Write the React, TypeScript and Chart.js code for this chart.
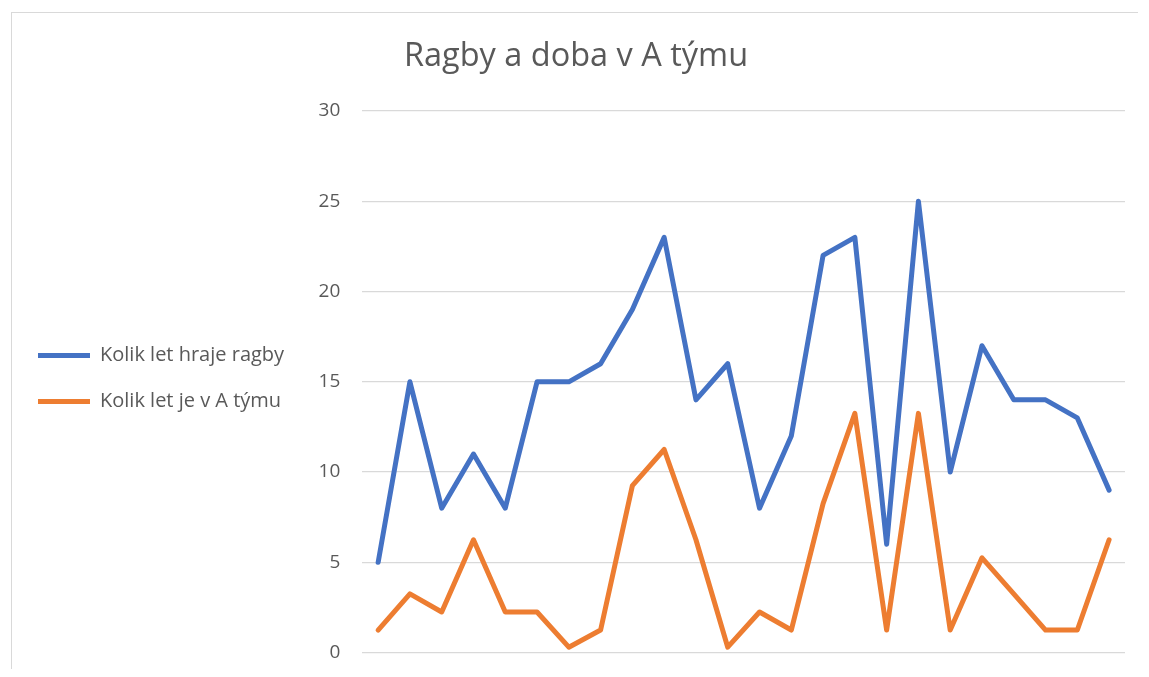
import React, { useEffect, useRef } from "react";
import { Chart, registerables } from "chart.js";

Chart.register(...registerables);

const categories: string[] = [
  "1", "2", "3", "4", "5", "6", "7", "8", "9", "10", "11", "12",
  "13", "14", "15", "16", "17", "18", "19", "20", "21", "22", "23", "24",
];
const yearsPlaying: number[] = [5, 15, 8, 11, 8, 15, 15, 16, 19, 23, 14, 16, 8, 12, 22, 23, 6, 25, 10, 17, 14, 14, 13, 9];
const yearsInATeam: number[] = [1.25, 3.25, 2.25, 6.25, 2.25, 2.25, 0.3, 1.25, 9.25, 11.25, 6.25, 0.3, 2.25, 1.25, 8.25, 13.25, 1.25, 13.25, 1.25, 5.25, 3.25, 1.25, 1.25, 6.25];
const seriesNames: string[] = ["Kolik let hraje ragby", "Kolik let je v A týmu"];
const chartTitle = "Ragby a doba v A týmu";

const shiftTitle = {
  id: "shiftTitle",
  afterLayout(chart: any) {
    if (chart.titleBlock) chart.titleBlock.left += 15;
  },
};

export default function App() {
  const ref = useRef<HTMLCanvasElement | null>(null);
  useEffect(() => {
    if (!ref.current) return;
    const font = "'Open Sans', 'Liberation Sans', sans-serif";
    const chart = new Chart(ref.current, {
      type: "line",
      data: {
        labels: categories,
        datasets: [
          {
            label: seriesNames[0],
            data: yearsPlaying,
            borderColor: "#4472C4",
            backgroundColor: "#4472C4",
            borderWidth: 5,
            pointRadius: 0,
            tension: 0,
            borderCapStyle: "round",
            borderJoinStyle: "round",
          },
          {
            label: seriesNames[1],
            data: yearsInATeam,
            borderColor: "#ED7D31",
            backgroundColor: "#ED7D31",
            borderWidth: 5,
            pointRadius: 0,
            tension: 0,
            borderCapStyle: "round",
            borderJoinStyle: "round",
          },
        ],
      },
      plugins: [shiftTitle],
      options: {
        animation: false,
        responsive: false,
        maintainAspectRatio: false,
        layout: { padding: { left: 0, right: 13, top: 20, bottom: 4 } },
        plugins: {
          title: {
            display: true,
            text: chartTitle,
            color: "#595959",
            font: { family: font, size: 32.5, weight: "normal" },
            padding: { top: 4, bottom: 35 },
          },
          legend: {
            position: "left",
            title: { display: true, text: "", padding: { top: 27.6, bottom: 0 } },
            labels: {
              color: "#595959",
              font: { family: font, size: 20 },
              usePointStyle: true,
              pointStyle: "line",
              pointStyleWidth: 52,
              boxWidth: 52,
              boxHeight: 4,
              padding: 26,
            },
          },
          tooltip: { enabled: false },
        },
        scales: {
          x: {
            display: false,
            offset: true,
          },
          y: {
            min: 0,
            max: 30,
            afterFit: (scale: any) => {
              scale.width = 72;
            },
            ticks: {
              stepSize: 5,
              color: "#595959",
              font: { family: font, size: 19 },
              padding: 22,
            },
            grid: { color: "#d9d9d9", lineWidth: 1.3, drawTicks: false },
            border: { display: false },
          },
        },
      },
    });
    return () => chart.destroy();
  }, []);
  return (
    <div
      style={{
        marginLeft: 3,
        marginTop: 4,
        borderLeft: "1px solid #d9d9d9",
        borderTop: "1px solid #d9d9d9",
        width: 1126,
        height: 656,
        overflow: "hidden",
      }}
    >
      <canvas ref={ref} width={1126} height={673} style={{ display: "block" }} />
    </div>
  );
}
